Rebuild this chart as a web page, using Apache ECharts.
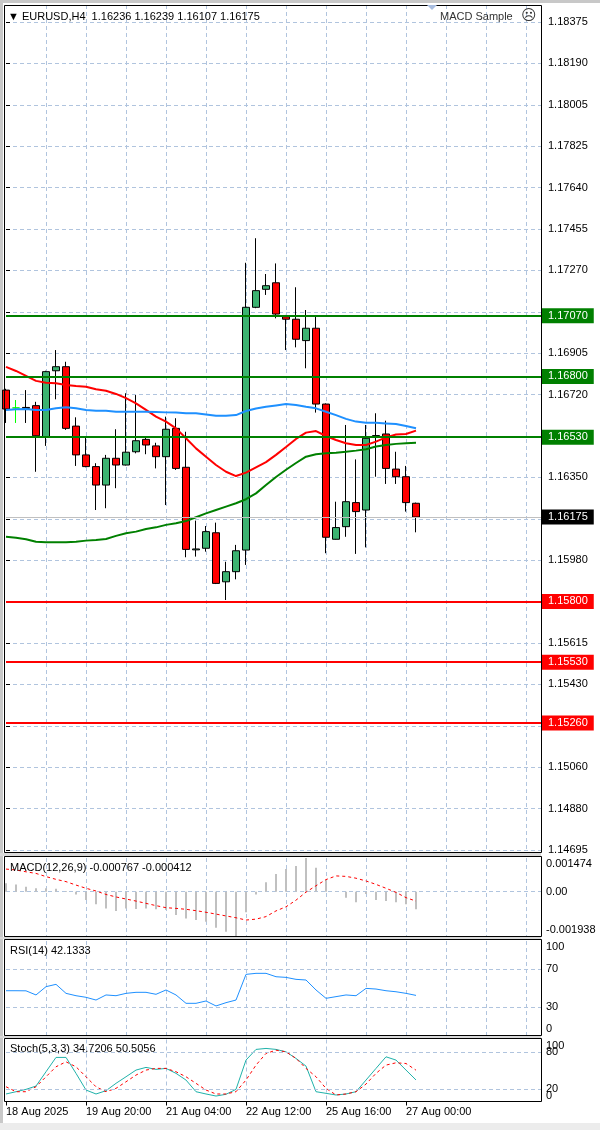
<!DOCTYPE html>
<html><head><meta charset="utf-8">
<script src="https://cdn.jsdelivr.net/npm/echarts@6/dist/echarts.min.js"></script>
<style>html,body{margin:0;padding:0;background:#fff}#c{width:600px;height:1130px}</style>
</head><body><div id="c"></div>
<script>
// ---------- DATA ----------
const symbolName = 'EURUSD,H4';
const openP  = [1.16739,1.16660,1.16662,1.16670,1.16532,1.16825,1.16843,1.16579,1.16451,1.16399,1.16317,1.16436,1.16406,1.16465,1.16520,1.16491,1.16443,1.16569,1.16396,1.16029,1.16036,1.16105,1.15887,1.15932,1.16028,1.17107,1.17187,1.17216,1.17065,1.17054,1.16959,1.17014,1.16677,1.16076,1.16132,1.16239,1.16206,1.16530,1.16544,1.16388,1.16354,1.16236];
const highP  = [1.16745,1.16695,1.16739,1.16687,1.16825,1.16917,1.16865,1.16618,1.16526,1.16414,1.16451,1.16565,1.16725,1.16717,1.16532,1.16505,1.16621,1.16614,1.16554,1.16159,1.16135,1.16150,1.15976,1.16051,1.17305,1.17414,1.17255,1.17302,1.17073,1.17196,1.17095,1.17068,1.16680,1.16243,1.16584,1.16431,1.16584,1.16636,1.16603,1.16465,1.16402,1.16239];
const lowP   = [1.16593,1.16593,1.16593,1.16376,1.16491,1.16698,1.16562,1.16402,1.16396,1.16206,1.16214,1.16303,1.16404,1.16458,1.16454,1.16391,1.16228,1.16384,1.15996,1.15999,1.16021,1.15877,1.15806,1.15898,1.15962,1.17103,1.17162,1.17058,1.16917,1.16929,1.16836,1.16639,1.16014,1.16075,1.16087,1.16011,1.16040,1.16354,1.16322,1.16322,1.16199,1.16107];
const closeP = [1.16655,1.16660,1.16658,1.16536,1.16821,1.16843,1.16569,1.16451,1.16399,1.16317,1.16436,1.16406,1.16463,1.16514,1.16495,1.16443,1.16565,1.16391,1.16031,1.16033,1.16110,1.15880,1.15932,1.16025,1.17107,1.17181,1.17203,1.17077,1.17054,1.16965,1.17014,1.16677,1.16085,1.16128,1.16243,1.16199,1.16525,1.16537,1.16391,1.16354,1.16239,1.16175];

const maRed   = [1.16842,1.16824,1.16802,1.16780,1.16772,1.16769,1.16762,1.16757,1.16754,1.16743,1.16736,1.16722,1.16703,1.16680,1.16651,1.16621,1.16599,1.16569,1.16525,1.16480,1.16443,1.16406,1.16376,1.16357,1.16372,1.16396,1.16419,1.16451,1.16486,1.16522,1.16550,1.16557,1.16535,1.16517,1.16503,1.16495,1.16495,1.16510,1.16529,1.16542,1.16544,1.16559];
const maBlue  = [1.16651,1.16654,1.16655,1.16651,1.16651,1.16658,1.16663,1.16658,1.16651,1.16647,1.16647,1.16643,1.16643,1.16643,1.16643,1.16642,1.16640,1.16639,1.16636,1.16636,1.16631,1.16625,1.16625,1.16628,1.16646,1.16657,1.16665,1.16671,1.16677,1.16673,1.16665,1.16658,1.16643,1.16628,1.16611,1.16599,1.16594,1.16594,1.16591,1.16588,1.16579,1.16569];
const maGreen = [1.16087,1.16083,1.16076,1.16065,1.16063,1.16063,1.16063,1.16065,1.16070,1.16073,1.16077,1.16091,1.16103,1.16110,1.16122,1.16129,1.16140,1.16147,1.16157,1.16174,1.16191,1.16206,1.16221,1.16236,1.16254,1.16280,1.16317,1.16353,1.16385,1.16415,1.16443,1.16454,1.16458,1.16461,1.16465,1.16470,1.16476,1.16488,1.16495,1.16500,1.16503,1.16505];

const resistanceLevels = [1.17070, 1.16800, 1.16530];
const supportLevels    = [1.15800, 1.15530, 1.15260];
const lastPrice = 1.16175;

const priceMin = 1.14695, priceMax = 1.18375, priceStep = 0.00184;
const priceTickLabels = ['1.14695','1.14880','1.15060','1.15245','1.15430','1.15615','1.15795','1.15980','1.16165','1.16350','1.16535','1.16720','1.16905','1.17090','1.17270','1.17455','1.17640','1.17825','1.18005','1.18190','1.18375'];

const xTickBars   = [0, 8, 16, 24, 32, 40];
const xTickLabels = ['18 Aug 2025','19 Aug 20:00','21 Aug 04:00','22 Aug 12:00','25 Aug 16:00','27 Aug 00:00'];

const macdMain   = [0.00037,0.00032,0.00022,0.00015,0.00015,0.00013,0.00003,-0.00012,-0.00036,-0.00055,-0.00073,-0.00084,-0.00073,-0.00076,-0.00073,-0.00077,-0.00080,-0.00102,-0.00117,-0.00124,-0.00131,-0.00158,-0.00175,-0.001938,-0.00090,-0.00012,0.00041,0.00077,0.00099,0.00112,0.001474,0.00105,0.00051,0.00002,-0.00026,-0.00046,-0.00010,-0.00036,-0.00041,-0.00046,-0.00055,-0.000767];
const macdSignal = [0.00099,0.00095,0.00087,0.00080,0.00066,0.00054,0.00044,0.00029,0.00015,0.00003,-0.00012,-0.00023,-0.00032,-0.00041,-0.00051,-0.00061,-0.00070,-0.00073,-0.00077,-0.00083,-0.00090,-0.00098,-0.00106,-0.00114,-0.00124,-0.00120,-0.00109,-0.00084,-0.00066,-0.00037,-0.00002,0.00026,0.00053,0.00069,0.00067,0.00059,0.00047,0.00032,0.00015,-0.00003,-0.00026,-0.000412];
const macdAxisMin = -0.001938, macdAxisMax = 0.001474;

const rsiValues = [47.1,47.1,47.0,42.6,51.4,53.9,44.3,41.8,40.1,37.2,42.6,41.8,44.3,45.4,45.4,43.3,47.9,42.6,33.7,33.7,36.2,30.9,34.4,37.2,64.5,65.6,65.6,62.0,61.3,59.2,58.5,47.9,39.0,40.8,42.6,41.8,49.6,48.9,47.1,46.0,44.3,42.1333];
const rsiLevels = [30, 70];
const rsiAxisValues = [0, 30, 70, 100];

const stochMain   = [12.1,15.8,19.6,24.9,48.0,71.1,71.1,45.4,18.5,12.1,17.4,29.3,39.9,50.7,55.0,51.8,53.4,45.4,34.6,15.8,12.1,8.8,11.6,19.6,66.8,84.0,85.6,84.0,80.1,69.5,57.1,15.8,13.2,10.5,12.1,15.8,34.6,53.4,72.1,66.8,50.7,34.7206];
const stochSignal = [23.8,15.8,15.8,23.8,39.9,56.0,64.0,56.0,39.9,23.8,15.8,21.2,31.8,42.6,50.7,53.4,53.4,48.0,39.9,29.3,18.5,12.1,12.1,15.8,34.6,58.7,77.5,82.8,80.1,69.5,53.4,39.9,21.2,10.5,12.1,15.8,28.1,45.4,58.7,62.4,61.3,50.5056];
const stochLevels = [20, 80];
const stochAxisValues = [0, 20, 80, 100];

// ---------- STYLE ----------
const FONT = '"Liberation Sans", Arial, "DejaVu Sans", sans-serif';
const GRID_C = '#b0c4de';
const DASH = [4, 3];
const n = openP.length;
const XMAX = 53.5;
const last = n - 1;

const pair = arr => arr.map((v, i) => [i, v]);
const near = (a, b) => Math.abs(a - b) < 1e-9;
const allLevels = resistanceLevels.concat(supportLevels, [lastPrice]);
// MT4 hides scale labels that sit under a level tag
const hiddenByTag = v => allLevels.some(l => Math.abs(l - v) < 0.0003);

const candleData = openP.map((o, i) => {
  const item = { value: [i, o, closeP[i], lowP[i], highP[i]] };
  if (o === closeP[i]) item.itemStyle = { color: '#00ff00', color0: '#00ff00', borderColor: '#00ff00', borderColor0: '#00ff00' };
  return item;
});

const lvlLabel = (bg) => ({
  show: true, position: 'end', distance: 1, color: '#fff', backgroundColor: bg,
  fontSize: 11, fontFamily: FONT, padding: [2, 6, 1, 6], lineHeight: 12
});

const hlineData = []
  .concat(resistanceLevels.map(v => ({ yAxis: v, lineStyle: { color: '#008000', width: 2, type: 'solid' }, label: Object.assign(lvlLabel('#008000'), { formatter: v.toFixed(5) }) })))
  .concat(supportLevels.map(v => ({ yAxis: v, lineStyle: { color: '#ff0000', width: 2, type: 'solid' }, label: Object.assign(lvlLabel('#ff0000'), { formatter: v.toFixed(5) }) })))
  .concat([{ yAxis: lastPrice, lineStyle: { color: '#c0c0c0', width: 1, type: 'solid' }, label: Object.assign(lvlLabel('#000000'), { formatter: lastPrice.toFixed(5) }) }]);

const levelMark = levels => ({
  silent: true, symbol: ['none', 'none'], animation: false,
  label: { show: false },
  lineStyle: { color: GRID_C, type: DASH, width: 1 },
  data: levels.map(v => ({ yAxis: v }))
});

const richEdge = {
  t: { padding: [12, 0, 0, 0], fontSize: 11, fontFamily: FONT, color: '#000' },
  b: { padding: [0, 0, 12, 0], fontSize: 11, fontFamily: FONT, color: '#000' }
};

const gridDefs = [
  { left: 6, top: 22, width: 535, height: 828 },      // price
  { left: 6, top: 5, width: 535, height: 848 },       // price vertical grid
  { left: 6, top: 858, width: 535, height: 78 },      // MACD
  { left: 6, top: 941, width: 535, height: 94 },      // RSI
  { left: 6, top: 1039.5, width: 535, height: 62 }    // Stoch
];

const xAxes = gridDefs.map((g, gi) => ({
  type: 'value', gridIndex: gi, min: 0, max: XMAX, interval: 4,
  axisLine: { show: false },
  axisTick: gi === 4 ? { show: true, customValues: xTickBars, length: 4, lineStyle: { color: '#000' } } : { show: false },
  axisLabel: gi === 4 ? {
    show: true, customValues: xTickBars, align: 'left', margin: 5, fontSize: 11, fontFamily: FONT, color: '#000',
    formatter: v => { const k = xTickBars.indexOf(Math.round(v)); return (k >= 0 && near(v, xTickBars[k])) ? xTickLabels[k] : ''; }
  } : { show: false },
  splitLine: { show: gi !== 0, showMinLine: false, showMaxLine: false, lineStyle: { color: GRID_C, type: DASH, width: 1 } }
}));

const yAxes = [
  { type: 'value', gridIndex: 0, position: 'right', min: priceMin, max: priceMax, interval: priceStep,
    axisLine: { show: false },
    axisTick: { show: true, length: 4, lineStyle: { color: '#000' } },
    axisLabel: { margin: 7, fontSize: 11, fontFamily: FONT, color: '#000',
      formatter: v => hiddenByTag(v) ? '' : (priceTickLabels[Math.round((v - priceMin) / priceStep)] || '') },
    splitLine: { show: true, lineStyle: { color: GRID_C, type: DASH, width: 1 } } },
  { type: 'value', gridIndex: 1, min: 0, max: 1, show: false },
  { type: 'value', gridIndex: 2, position: 'right', min: macdAxisMin, max: macdAxisMax, interval: -macdAxisMin,
    axisLine: { show: false }, axisTick: { show: false },
    axisLabel: { margin: 5, fontSize: 11, fontFamily: FONT, color: '#000', rich: richEdge,
      formatter: v => near(v, macdAxisMax) ? '{t|' + macdAxisMax.toFixed(6) + '}' : near(v, macdAxisMin) ? '{b|' + macdAxisMin.toFixed(6) + '}' : near(v, 0) ? '0.00' : '' },
    splitLine: { show: true, showMinLine: false, showMaxLine: false, lineStyle: { color: GRID_C, type: DASH, width: 1 } } },
  { type: 'value', gridIndex: 3, position: 'right', min: 0, max: 100, interval: 10,
    axisLine: { show: false }, axisTick: { show: false }, splitLine: { show: false },
    axisLabel: { margin: 5, fontSize: 11, fontFamily: FONT, color: '#000', rich: richEdge,
      formatter: v => !rsiAxisValues.some(a => near(a, v)) ? '' : near(v, 100) ? '{t|100}' : near(v, 0) ? '{b|0}' : String(Math.round(v)) } },
  { type: 'value', gridIndex: 4, position: 'right', min: 0, max: 100, interval: 10,
    axisLine: { show: false }, axisTick: { show: false }, splitLine: { show: false },
    axisLabel: { margin: 5, fontSize: 11, fontFamily: FONT, color: '#000', rich: richEdge,
      formatter: v => !stochAxisValues.some(a => near(a, v)) ? '' : near(v, 100) ? '{t|100}' : near(v, 0) ? '{b|0}' : String(Math.round(v)) } }
];

const fmt5 = v => v.toFixed(5);
const titleStyle = { fontSize: 11, fontWeight: 'normal', color: '#000', fontFamily: FONT };
const titles = [
  { text: '\u25BC ' + symbolName + '  ' + [openP[last], highP[last], lowP[last], closeP[last]].map(fmt5).join(' '), left: 8, top: 11 },
  { text: 'MACD Sample', left: 440, top: 11, textStyle: Object.assign({}, titleStyle, { color: '#333' }) },
  { text: '\u2639', left: 521, top: 8, textStyle: Object.assign({}, titleStyle, { color: '#333', fontSize: 15 }) },
  { text: 'MACD(12,26,9) ' + macdMain[last].toFixed(6) + ' ' + macdSignal[last].toFixed(6), left: 10, top: 862 },
  { text: 'RSI(14) ' + rsiValues[last].toFixed(4), left: 10, top: 945 },
  { text: 'Stoch(5,3,3) ' + stochMain[last].toFixed(4) + ' ' + stochSignal[last].toFixed(4), left: 10, top: 1043 }
].map(t => Object.assign({ padding: 0, textStyle: titleStyle }, t));

const frame = (x, y, w, h) => ({ type: 'rect', z: 100, silent: true, shape: { x, y, width: w, height: h }, style: { fill: 'none', stroke: '#000', lineWidth: 1 } });

const option = {
  animation: false,
  backgroundColor: '#ffffff',
  title: titles,
  grid: gridDefs,
  xAxis: xAxes,
  yAxis: yAxes,
  graphic: [
    { type: 'rect', z: -10, silent: true, shape: { x: 0, y: 0, width: 600, height: 3 }, style: { fill: '#c8c8c8' } },
    { type: 'rect', z: -10, silent: true, shape: { x: 0, y: 0, width: 3, height: 1130 }, style: { fill: '#c8c8c8' } },
    { type: 'rect', z: -10, silent: true, shape: { x: 0, y: 1123, width: 600, height: 7 }, style: { fill: '#ececec' } },
    { type: 'rect', z: -10, silent: true, shape: { x: 0, y: 853, width: 541, height: 3 }, style: { fill: '#d8d8d8' } },
    { type: 'rect', z: -10, silent: true, shape: { x: 0, y: 937, width: 541, height: 2 }, style: { fill: '#d8d8d8' } },
    { type: 'rect', z: -10, silent: true, shape: { x: 0, y: 1036, width: 541, height: 2 }, style: { fill: '#d8d8d8' } },
    frame(4.5, 5.5, 537, 847),
    frame(4.5, 856.5, 537, 80),
    frame(4.5, 939.5, 537, 96),
    frame(4.5, 1038.5, 537, 63),
    { type: 'polygon', z: 100, silent: true, shape: { points: [[427, 5], [437, 5], [432, 10]] }, style: { fill: '#a8bde0' } }
  ],
  series: [
    { type: 'candlestick', name: 'EURUSD', xAxisIndex: 0, yAxisIndex: 0, data: candleData, barWidth: 7, clip: false, z: 2,
      itemStyle: { color: '#3cb371', color0: '#ff0000', borderColor: '#000', borderColor0: '#000', borderWidth: 1 },
      markLine: { silent: true, symbol: ['none', 'none'], animation: false, precision: 5, data: hlineData } },
    { type: 'line', name: 'MA fast', xAxisIndex: 0, yAxisIndex: 0, data: pair(maRed), showSymbol: false, z: 3, lineStyle: { color: '#ff0000', width: 2 } },
    { type: 'line', name: 'MA mid', xAxisIndex: 0, yAxisIndex: 0, data: pair(maBlue), showSymbol: false, z: 3, lineStyle: { color: '#1e90ff', width: 2 } },
    { type: 'line', name: 'MA slow', xAxisIndex: 0, yAxisIndex: 0, data: pair(maGreen), showSymbol: false, z: 3, lineStyle: { color: '#008000', width: 2 } },
    { type: 'bar', name: 'MACD', xAxisIndex: 2, yAxisIndex: 2, data: pair(macdMain), barWidth: 2, itemStyle: { color: '#c0c0c0' } },
    { type: 'line', name: 'Signal', xAxisIndex: 2, yAxisIndex: 2, data: pair(macdSignal), showSymbol: false, lineStyle: { color: '#ff0000', width: 1, type: [3, 3] } },
    { type: 'line', name: 'RSI', xAxisIndex: 3, yAxisIndex: 3, data: pair(rsiValues), showSymbol: false, lineStyle: { color: '#1e90ff', width: 1 }, markLine: levelMark(rsiLevels) },
    { type: 'line', name: 'Stoch main', xAxisIndex: 4, yAxisIndex: 4, data: pair(stochMain), showSymbol: false, lineStyle: { color: '#20b2aa', width: 1 }, markLine: levelMark(stochLevels) },
    { type: 'line', name: 'Stoch signal', xAxisIndex: 4, yAxisIndex: 4, data: pair(stochSignal), showSymbol: false, lineStyle: { color: '#ff0000', width: 1, type: [3, 3] } }
  ]
};

const chart = echarts.init(document.getElementById('c'), null, { renderer: 'canvas', width: 600, height: 1130 });
chart.setOption(option);
</script>
</body></html>
